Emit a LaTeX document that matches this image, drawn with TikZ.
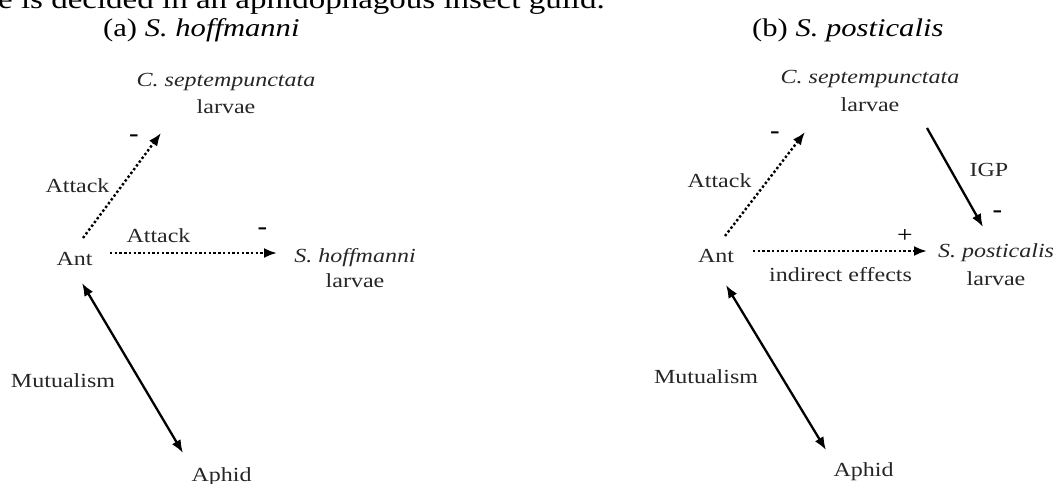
\documentclass[tikz,border=0pt]{standalone}
\usepackage{fontspec}
\setmainfont{Liberation Serif}[FakeStretch=1.2,
  UprightFont=*, ItalicFont=* Italic, BoldFont=* Bold,
  ItalicFeatures={FakeStretch=1.2}, BoldFeatures={FakeStretch=1.2}]
\usetikzlibrary{arrows.meta}
\begin{document}
\begin{tikzpicture}[x=1pt,y=-1pt,
  lbl/.style={inner sep=0pt, anchor=base, text=black!85, font=\fontsize{20}{28}\selectfont, align=center},
  sgn/.style={inner sep=0pt, anchor=base, text=black, font=\fontsize{24}{28}\selectfont\bfseries},
  ttl/.style={inner sep=0pt, anchor=base west, font=\fontsize{25.5}{30}\selectfont},
  dotarrow/.style={line width=2.4pt, dash pattern=on 2.4pt off 2.3pt, -{Latex[length=13pt,width=10pt]}},
  solarrow/.style={line width=2.3pt, -{Latex[length=13pt,width=10pt]}},
  dblarrow/.style={line width=2.3pt, {Latex[length=13pt,width=10pt]}-{Latex[length=13pt,width=10pt]}}]
\useasboundingbox (0,0) rectangle (1058,484);
\node[inner sep=0pt, anchor=base east, font=\fontsize{27.5}{30}\selectfont] (topline) at (605,9) {e is decided in an aphidophagous insect guild.};
% panel (a)
\node[ttl] (titleA) at (103,37) {(a) \textit{S. hoffmanni}};
\node[lbl] (cseptA) at (226,114) {\textit{C. septempunctata}\\larvae};
\node[lbl, font=\fontsize{20}{25}\selectfont] (hoffA) at (355,287) {\textit{S. hoffmanni}\\larvae};
\node[lbl] (antA) at (74.5,265) {Ant};
\node[lbl] (aphidA) at (221.5,481) {Aphid};
\node[lbl] (attack1A) at (77.5,193) {Attack};
\node[lbl] (attack2A) at (158.5,242) {Attack};
\node[sgn] (minus1A) at (134,142) {-};
\node[sgn] (minus2A) at (262.5,234) {-};
\node[lbl] (mutA) at (63,387) {Mutualism};
\draw[dotarrow] ([shift={(8.5,-27)}]antA.base) -- ([shift={(-65,19)}]cseptA.base);
\draw[dotarrow] ([shift={(35.5,-12)}]antA.base) -- ([shift={(-78,-34)}]hoffA.base);
\draw[dblarrow] ([shift={(7.5,18)}]antA.base) -- ([shift={(-38.5,-28)}]aphidA.base);
% panel (b)
\node[ttl] (titleB) at (752,37) {(b) \textit{S. posticalis}};
\node[lbl] (cseptB) at (870,112) {\textit{C. septempunctata}\\larvae};
\node[lbl] (postB) at (996,285) {\textit{S. posticalis}\\larvae};
\node[lbl] (antB) at (716,262) {Ant};
\node[lbl] (aphidB) at (863.5,476) {Aphid};
\node[lbl] (attackB) at (719.5,188) {Attack};
\node[lbl] (igpB) at (989,176) {IGP};
\node[sgn] (minus1B) at (775,139) {-};
\node[sgn] (minus2B) at (997.5,218) {-};
\node[lbl, font=\fontsize{23}{28}\selectfont, text=black] (plusB) at (905,242) {+};
\node[lbl] (indirB) at (840.5,281) {indirect effects};
\node[lbl] (mutB) at (706,383) {Mutualism};
\draw[dotarrow] ([shift={(9,-26)}]antB.base) -- ([shift={(-65,20)}]cseptB.base);
\draw[solarrow] ([shift={(57,16)}]cseptB.base) -- ([shift={(-13,-58)}]postB.base);
\draw[dotarrow] ([shift={(37,-11)}]antB.base) -- ([shift={(-69,-34)}]postB.base);
\draw[dblarrow] ([shift={(10,23)}]antB.base) -- ([shift={(-37.5,-26)}]aphidB.base);
\end{tikzpicture}
\end{document}
